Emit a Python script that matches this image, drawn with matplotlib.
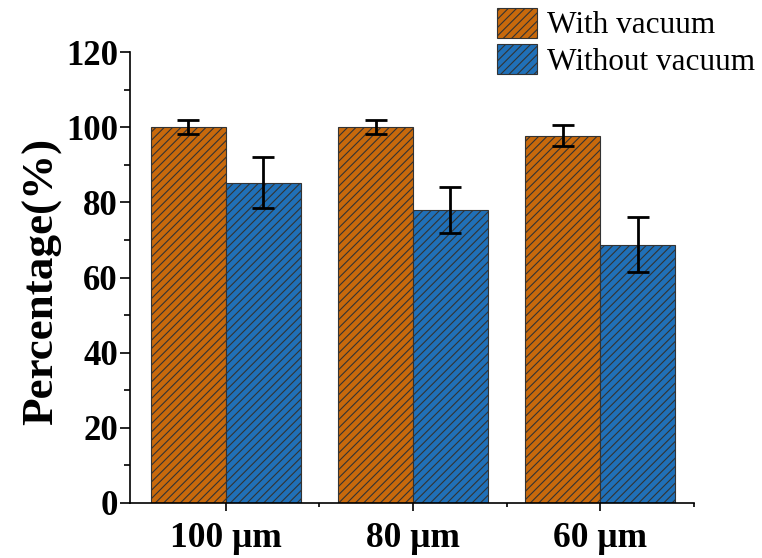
import matplotlib
matplotlib.use("Agg")
import matplotlib.pyplot as plt
import numpy as np

categories = ["100 μm", "80 μm", "60 μm"]
with_vac = [100.0, 100.0, 97.8]
with_err = [1.8, 1.8, 2.8]
without_vac = [85.2, 78.0, 68.7]
without_err = [6.8, 6.2, 7.3]
series_names = ["With vacuum", "Without vacuum"]

plt.rcParams["font.family"] = ["Liberation Serif", "DejaVu Serif"]
plt.rcParams["hatch.linewidth"] = 0.8
plt.rcParams["hatch.color"] = "#222222"

fig = plt.figure(figsize=(7.62, 5.58), dpi=100)
ax = fig.add_axes([0.171, 0.0986, 0.7395, 0.808])

x = np.arange(len(categories))
w = 0.4
orange = "#C8690C"
blue = "#2070B8"
b1 = ax.bar(x - w/2, with_vac, w, color=orange, edgecolor="#333333", linewidth=0.8,
            hatch="////", label=series_names[0])
b2 = ax.bar(x + w/2, without_vac, w, color=blue, edgecolor="#333333", linewidth=0.8,
            hatch="////", label=series_names[1])
ax.errorbar(x - w/2, with_vac, yerr=with_err, fmt="none", ecolor="black",
            elinewidth=2, capsize=8, capthick=2)
ax.errorbar(x + w/2, without_vac, yerr=without_err, fmt="none", ecolor="black",
            elinewidth=2, capsize=8, capthick=2)

ax.set_ylim(0, 120)
ax.set_xlim(-0.51, 2.5)
ax.set_yticks(np.arange(0, 121, 20))
ax.set_yticks(np.arange(0, 121, 10), minor=True)
ax.set_xticks(x)
ax.set_xticks([0.5, 1.5, 2.5], minor=True)
ax.set_xticklabels(categories, fontsize=25.5, fontweight="bold")
for lab in ax.get_yticklabels():
    lab.set_fontsize(25)
    lab.set_fontweight("bold")
ax.tick_params(axis="y", which="major", direction="out", length=7, width=1.2, pad=2)
ax.tick_params(axis="y", which="minor", direction="out", length=4, width=1.2)
ax.tick_params(axis="x", which="major", direction="out", length=6, width=1.2, pad=8)
ax.tick_params(axis="x", which="minor", direction="out", length=3, width=1.2)
ax.spines["top"].set_visible(False)
ax.spines["right"].set_visible(False)
ax.spines["left"].set_linewidth(1.2)
ax.spines["bottom"].set_linewidth(1.2)
ax.set_ylabel("Percentage(%)", fontsize=32.5, fontweight="bold")
ax.yaxis.set_label_coords(-0.121, 0.492)

leg = fig.legend(handles=[b1, b2], loc="upper left", bbox_to_anchor=(0.652, 0.986),
                 frameon=False, fontsize=22.5, handlelength=1.3, handleheight=1.1,
                 handletextpad=0.3, labelspacing=0.12, borderaxespad=0, borderpad=0)

fig.savefig("out.png", dpi=100)
